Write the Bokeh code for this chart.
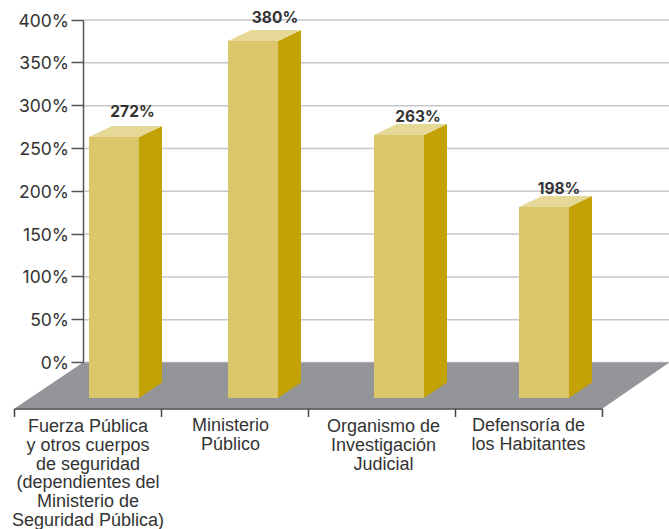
from bokeh.plotting import figure
from bokeh.models import FixedTicker, Range1d
from bokeh.core.properties import value
from bokeh.embed import file_html
from bokeh.resources import INLINE

# ---- data ----
categories = [
    "Fuerza Pública\ny otros cuerpos\nde seguridad\n(dependientes del\nMinisterio de\nSeguridad Pública)",
    "Ministerio\nPúblico",
    "Organismo de\nInvestigación\nJudicial",
    "Defensoría de\nlos Habitantes",
]
value_labels = ["272%", "380%", "263%", "198%"]
drawn_tops = [263.4, 375.5, 265.7, 181.6]   # height of each bar's front face on the axis, as drawn
y_ticks = [0, 50, 100, 150, 200, 250, 300, 350, 400]
y_tick_labels = ["0%", "50%", "100%", "150%", "200%", "250%", "300%", "350%", "400%"]

# ---- layout ----
W, H = 669, 529
SLOT = 147.0
UNIT = 0.85625
ZERO_PX = 362.0
X0_PX = 14.0
def sx(px): return (px - X0_PX) / SLOT
def sy(px): return (ZERO_PX - px) / UNIT

bar_left = [sx(v) for v in (88.5, 227.5, 373.5, 518.5)]
bar_w = 50 / SLOT
dep_x = 23 / SLOT
top_rise = 11 / UNIT
front_floor = sy(397.5)
back_floor = sy(382)
label_x = [sx(v) for v in (132, 274.5, 417.5, 558.5)]
label_gap = [14.5, 12.5, 7.5, 7.5]
cat_x = [sx(v) for v in (87.5, 230, 383, 528)]
cat_first = (425.5, 424.5, 425.5, 424.5)
LINE = 18.8

FRONT, SIDE, TOP, FLOOR = "#DBC669", "#C2A204", "#E6D897", "#939598"
TEXT = "#333333"

p = figure(width=W, height=H, output_backend="svg", toolbar_location=None,
           x_range=Range1d(sx(0), sx(W)), y_range=Range1d(sy(H), sy(0)),
           min_border=0, outline_line_color=None, background_fill_color="white",
           border_fill_color="white")
p.styles = {"position": "absolute", "left": "0px", "top": "0px"}
p.grid.visible = False

# gridlines
p.segment(x0=[sx(82.5)] * len(y_ticks), x1=[sx(W)] * len(y_ticks), y0=y_ticks, y1=y_ticks,
          line_color="#C6C6CC", line_width=1.5)

# floor
p.patch(x=[sx(82.5), sx(669), sx(602), sx(14)], y=[sy(362), sy(362), sy(408), sy(408)],
        fill_color=FLOOR, line_color=None)

# bars
for left, top in zip(bar_left, drawn_tops):
    r = left + bar_w
    p.patch(x=[left, r, r, left], y=[front_floor, front_floor, top, top],
            fill_color=FRONT, line_color=None)
    p.patch(x=[r, r + dep_x, r + dep_x, r], y=[front_floor, back_floor, top + top_rise, top],
            fill_color=SIDE, line_color=None)
    p.patch(x=[left, r, r + dep_x, left + dep_x], y=[top, top, top + top_rise, top + top_rise],
            fill_color=TOP, line_color=None)

# value labels
p.text(x=label_x, y=[t + top_rise + g / UNIT for t, g in zip(drawn_tops, label_gap)],
       text=value_labels, text_font=value("Inter"), text_font_style="bold",
       text_font_size="15.5px", text_color=TEXT, text_align="center", text_baseline="middle")

# category labels, one text per line
line_x, line_y, line_t = [], [], []
for cx, first, cat in zip(cat_x, cat_first, categories):
    for i, part in enumerate(cat.split("\n")):
        line_x.append(cx)
        line_y.append(sy(first + i * LINE))
        line_t.append(part)
p.text(x=line_x, y=line_y, text=line_t, text_font=value("Liberation Sans"),
       text_font_size="18px", text_color=TEXT, text_align="center", text_baseline="middle")

# axes
ya = p.yaxis[0]
ya.fixed_location = sx(82.5)
ya.ticker = FixedTicker(ticks=y_ticks)
ya.major_label_overrides = dict(zip(y_ticks, y_tick_labels))
ya.bounds = (0, 400)
ya.axis_line_color = "#555555"
ya.axis_line_width = 1.5
ya.major_tick_line_color = "#555555"
ya.major_tick_line_width = 1.5
ya.major_tick_in = 0
ya.major_tick_out = 12
ya.minor_tick_line_color = None
ya.major_label_standoff = 2
ya.major_label_text_font = "Inter"
ya.major_label_text_font_size = "17.5px"
ya.major_label_text_color = TEXT

# category axis: line and ticks only, labels are the texts above
xa = p.xaxis[0]
xa.visible = False
ax_y = sy(408.5)
p.segment(x0=[0], x1=[4], y0=[ax_y], y1=[ax_y], line_color="#444444", line_width=1.5)
p.segment(x0=[0, 1, 2, 3, 4], x1=[0, 1, 2, 3, 4], y0=[ax_y] * 5, y1=[sy(416.5)] * 5,
          line_color="#444444", line_width=1.5)

open("out.html", "w").write(file_html(p, INLINE))
